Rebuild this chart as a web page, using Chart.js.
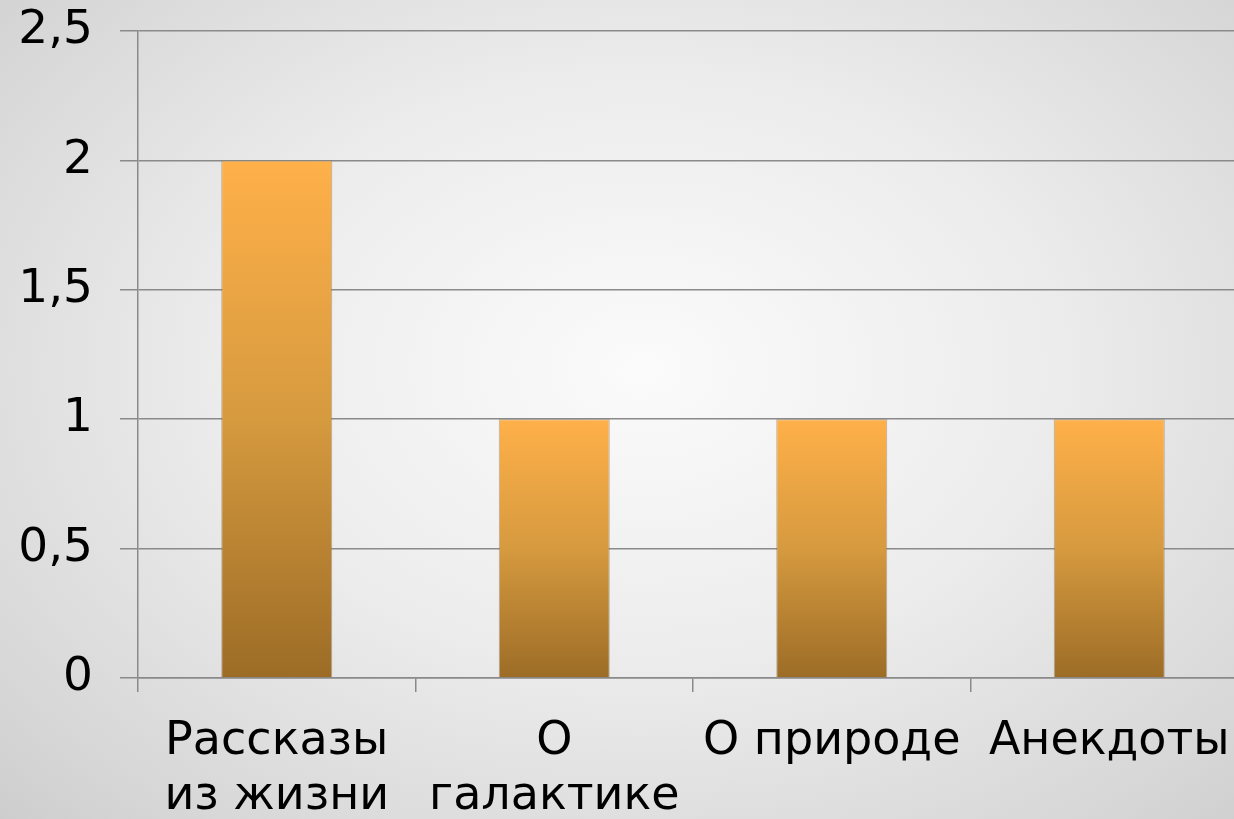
<!DOCTYPE html>
<html>
<head>
<meta charset="utf-8">
<script src="https://cdn.jsdelivr.net/npm/chart.js@4"></script>
<style>
  html, body { margin: 0; padding: 0; overflow: hidden; width: 1234px; height: 819px; }
  body { background: radial-gradient(ellipse 75% 80% at 52% 45%, #fbfbfb 0%, #ececec 45%, #d6d6d6 85%, #cccccc 100%); }
  #wrap { position: absolute; left: 0; top: 0; width: 1250px; height: 819px; }
</style>
</head>
<body>
<div id="wrap"><canvas id="c"></canvas></div>
<script>
const categories = [["Рассказы", "из жизни"], ["О", "галактике"], "О природе", "Анекдоты"];
const values = [2, 1, 1, 1];
const yTicks = [0, 0.5, 1, 1.5, 2, 2.5];

const FONT = "'DejaVu Sans', Verdana, sans-serif";
const gridColor = '#8a8a8a';

function barGradient(ctx) {
  const chart = ctx.chart;
  if (!chart.chartArea || ctx.type !== 'data') return '#d89a3e';
  const ys = chart.scales.y;
  const top = ys.getPixelForValue(ctx.raw);
  const base = ys.getPixelForValue(0);
  if (!isFinite(top) || !isFinite(base) || top === base) return '#d89a3e';
  const g = chart.ctx.createLinearGradient(0, top, 0, base);
  g.addColorStop(0, '#ffb049');
  g.addColorStop(0.5, '#d69a3f');
  g.addColorStop(1, '#9c6c26');
  return g;
}

new Chart(document.getElementById('c'), {
  type: 'bar',
  data: {
    labels: categories,
    datasets: [{
      data: values,
      backgroundColor: barGradient,
      borderColor: 'rgba(130,110,80,0.55)',
      borderWidth: 1,
      barPercentage: 0.4,
      categoryPercentage: 1.0
    }]
  },
  options: {
    responsive: true,
    maintainAspectRatio: false,
    animation: false,
    layout: { padding: { top: 31, right: 2, bottom: 0, left: 0 } },
    plugins: { legend: { display: false }, tooltip: { enabled: false } },
    scales: {
      x: {
        grid: { display: true, drawOnChartArea: false, drawTicks: true, tickLength: 14, color: gridColor, lineWidth: 1.5, offset: true },
        border: { display: true, color: gridColor, width: 1.5 },
        ticks: {
          color: '#000',
          font: { family: FONT, size: 46, lineHeight: 1.2 },
          padding: 22,
          maxRotation: 0,
          autoSkip: false
        },
        afterFit: (s) => { s.height = 141; s.paddingLeft = 0; s.paddingRight = 0; }
      },
      y: {
        min: 0, max: 2.5,
        afterBuildTicks: (s) => { s.ticks = yTicks.map(v => ({ value: v })); },
        grid: { color: gridColor, lineWidth: 1.5, tickLength: 18, drawTicks: true },
        border: { display: true, color: gridColor, width: 1.5 },
        ticks: {
          color: '#000',
          font: { family: FONT, size: 47 },
          padding: 27,
          callback: (v) => String(v).replace('.', ',')
        },
        afterFit: (s) => { s.width = 138; s.paddingTop = 0; s.paddingBottom = 0; }
      }
    }
  }
});
</script>
</body>
</html>
